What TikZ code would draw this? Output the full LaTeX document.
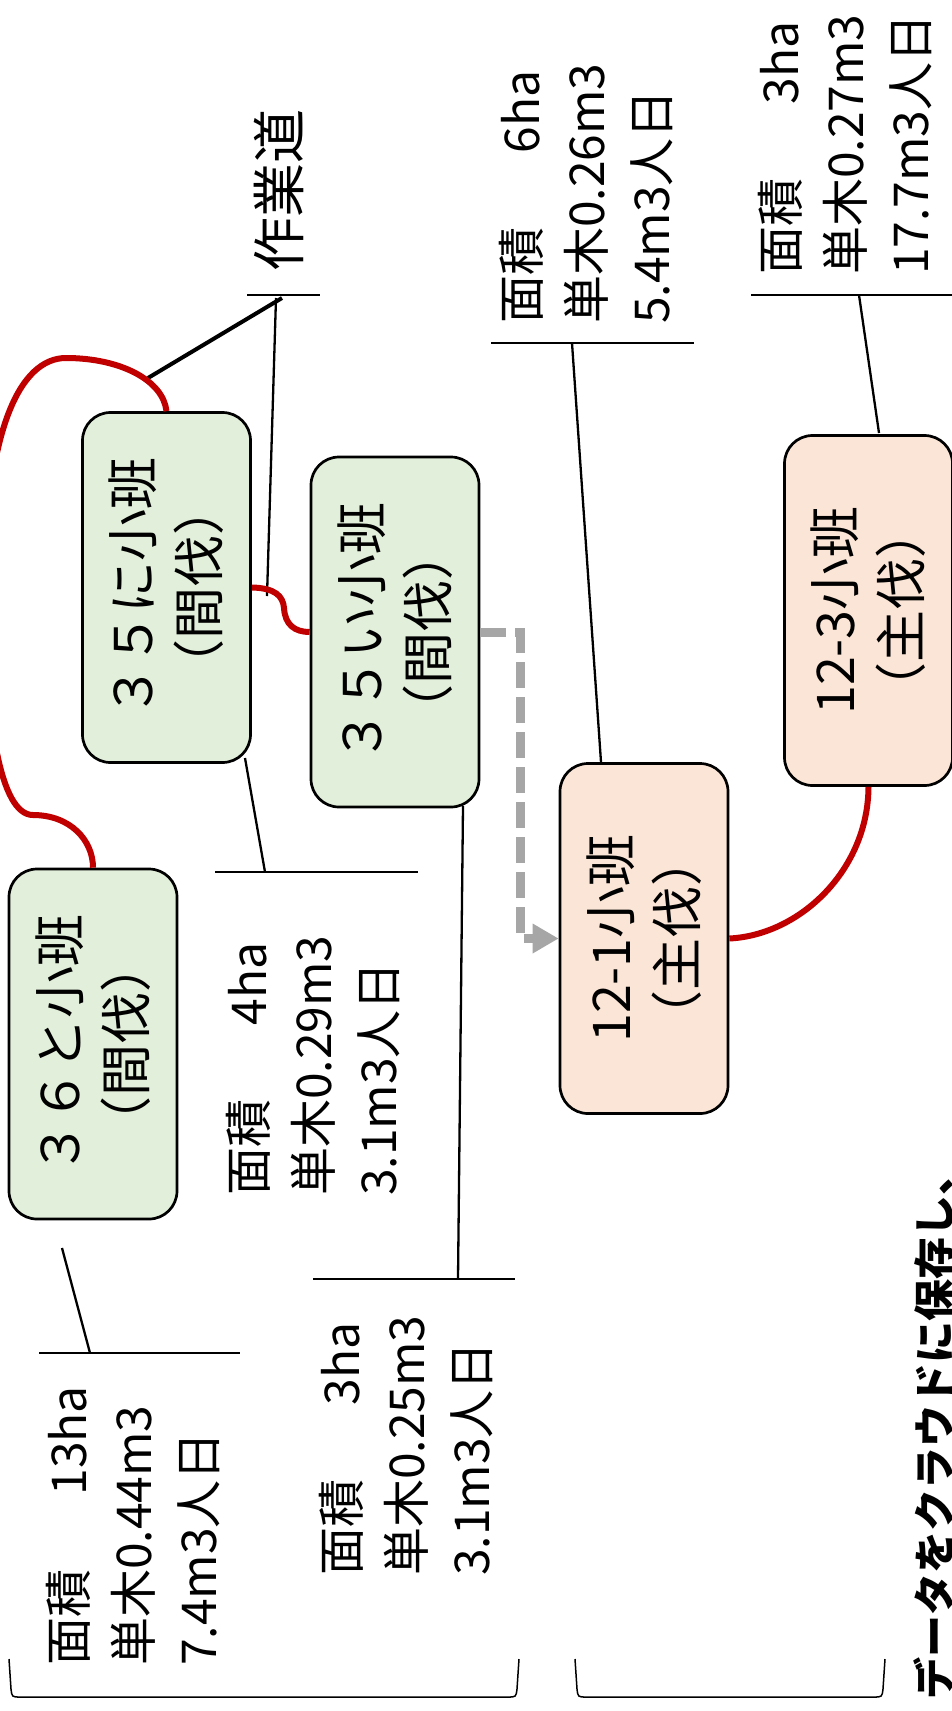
\documentclass[tikz,border=0pt]{standalone}
\usepackage{fontspec}
\setmainfont{Noto Sans CJK JP}
\usetikzlibrary{arrows.meta}
\definecolor{boxgreen}{HTML}{E2EFDA}
\definecolor{boxsalmon}{HTML}{FBE5D6}
\definecolor{darkred}{HTML}{C00000}
\definecolor{dashgray}{HTML}{A6A6A6}
\begin{document}
\begin{tikzpicture}[x=1pt,y=-1pt,
  box/.style={draw=black, line width=2.7pt, rounded corners=28pt, rotate=90,
    minimum width=350pt, minimum height=168pt, align=center, inner sep=0pt,
    font=\fontsize{52}{66}\selectfont},
  gbox/.style={box, fill=boxgreen},
  sbox/.style={box, fill=boxsalmon},
  info/.style={rotate=90, anchor=north west, align=left, inner sep=0pt,
    font=\fontsize{48}{65}\selectfont},
  redline/.style={draw=darkred, line width=6pt},
  conn/.style={draw=black, line width=2.3pt},
  bar/.style={draw=black, line width=2.3pt},
  bracket/.style={draw=black, line width=1.5pt},
]
\useasboundingbox (0,0) rectangle (952,1711);
\clip (0,0) rectangle (952,1711);
\fill[white] (0,0) rectangle (952,1711);

% boxes
\node[gbox] (boxA) at (166.5,587.5) {３５に小班\\（間伐）};
\node[gbox] (boxB) at (395,632) {３５い小班\\（間伐）};
\node[gbox] (boxC) at (93,1044) {３６と小班\\（間伐）};
\node[sbox] (boxD) at (644,938.5) {12-1小班\\（主伐）};
\node[sbox] (boxE) at (868.5,610.5) {12-3小班\\（主伐）};

% info texts
\node[info] (t1) at (46,1666) {\makebox[3.55em][l]{面積}13ha\\単木0.44m3\\7.4m3人日};
\node[info] (t2) at (226,1196) {\makebox[3.55em][l]{面積}4ha\\単木0.29m3\\3.1m3人日};
\node[info] (t3) at (319,1576) {\makebox[3.55em][l]{面積}3ha\\単木0.25m3\\3.1m3人日};
\node[info] (t4) at (499,324) {\makebox[3.55em][l]{面積}6ha\\単木0.26m3\\5.4m3人日};
\node[info] (t5) at (758,275) {\makebox[3.55em][l]{面積}3ha\\単木0.27m3\\17.7m3人日};
\node[info, font=\fontsize{54}{60}\selectfont] (road) at (254,272) {作業道};

\node[rotate=90, anchor=base west, inner sep=0pt, font=\fontsize{42}{50}\selectfont\bfseries] (note) at (950,1700) {データをクラウドに保存し、};

% bars under info texts
\coordinate (b1l) at (39,1353); \coordinate (b1r) at (240,1353);
\coordinate (b2l) at (215,872); \coordinate (b2r) at (418,872);
\coordinate (b3l) at (313,1279); \coordinate (b3r) at (515,1279);
\coordinate (b4l) at (491,343); \coordinate (b4r) at (694,343);
\coordinate (b5l) at (751,295); \coordinate (b5r) at (955,295);
\coordinate (b6l) at (247,295); \coordinate (b6r) at (320,295);
\draw[bar] (b1l) -- (b1r);
\draw[bar] (b2l) -- (b2r);
\draw[bar] (b3l) -- (b3r);
\draw[bar] (b4l) -- (b4r);
\draw[bar] (b5l) -- (b5r);
\draw[bar] (b6l) -- (b6r);

% leader lines
\coordinate (c1a) at (90,1353); \coordinate (c1b) at (62,1248);
\coordinate (c2a) at (265,872); \coordinate (c2b) at (245,758);
\coordinate (c3a) at (458,1279); \coordinate (c3b) at (463,806);
\coordinate (c4a) at (572,343); \coordinate (c4b) at (601,762);
\coordinate (c5a) at (859,295); \coordinate (c5b) at (879,433);
\coordinate (r1) at (282,298); \coordinate (r1e) at (148,378);
\coordinate (r2) at (276,298); \coordinate (r2e) at (267,596);
\draw[conn] (c1a) -- (c1b);
\draw[conn] (c2a) -- (c2b);
\draw[conn] (c3a) -- (c3b);
\draw[conn] (c4a) -- (c4b);
\draw[conn] (c5a) -- (c5b);
\draw[draw=black, line width=4pt] (r1) -- (r1e);
\draw[conn] (r2) -- (r2e);

% red links
\draw[redline] (boxA.east) .. controls (163,380) and (120,358) .. (66,358)
  .. controls (20,358) and (-15,430) .. (-15,590)
  .. controls (-15,720) and (0,815) .. (33,815)
  .. controls (70,815) and (93,840) .. (boxC.east);
\draw[redline] (boxA.south) .. controls (275,588) and (283,596) .. (284,608)
  .. controls (285,625) and (295,632) .. (boxB.north);
\draw[redline] (boxD.south) .. controls (800,935) and (868,870) .. (boxE.west);

% gray dashed arrow
\coordinate (g1) at (520,632); \coordinate (g2) at (520,938.5);
\draw[draw=dashgray, line width=9pt, dash pattern=on 26pt off 9pt,
  -{Triangle[length=26pt,width=28pt,fill=dashgray]}]
  (boxB.south) -- (g1) -- (g2) -- (boxD.north);

% brackets
\draw[bracket] (9,1659) -- (11,1689) .. controls (12,1697) .. (20,1697) -- (508,1697)
  .. controls (516,1697) .. (517,1689) -- (519,1659);
\draw[bracket] (575,1659) -- (577,1689) .. controls (578,1697) .. (586,1697) -- (874,1697)
  .. controls (882,1697) .. (883,1689) -- (885,1659);
\end{tikzpicture}
\end{document}
